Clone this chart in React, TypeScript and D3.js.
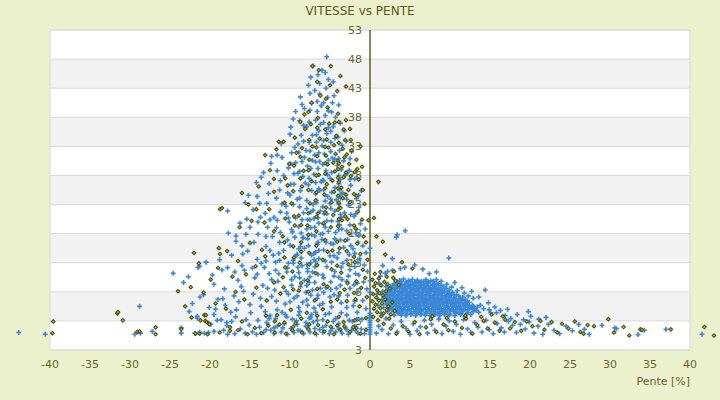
import React from 'react';
import * as d3 from 'd3';

const chartTitle = 'VITESSE vs PENTE';
const xAxisTitle = 'Pente [%]';
const xTicks = [-40, -35, -30, -25, -20, -15, -10, -5, 0, 5, 10, 15, 20, 25, 30, 35, 40];
const yTicks = [-2.5, 2.5, 7.5, 12.5, 17.5, 22.5, 27.5, 32.5, 37.5, 42.5, 47.5, 52.5];
const yTickLabels = ['3', '3', '8', '13', '18', '23', '28', '33', '38', '43', '48', '53'];

type P = [number, number];

// Series 1 (blue): downhill slopes
const blueLeft: P[] = [
  [-43.9,0.5],[-40.6,0.2],[-28.8,5.0],[-29.4,0.2],[-28.7,0.4],[-27.2,0.7],[-23.6,1.3],[-23.6,0.4],[-22.6,4.1],[-21.6,3.3],[-21.6,3.0],[-21.9,0.4],[-21.3,0.6],[-20.7,0.4],[-20.2,0.5],[-19.5,0.7],[-18.3,0.9],[-17.8,0.2],[-19.5,3.6],[-18.1,5.2],[-19.9,1.9],[-19.1,2.6],[-18.6,2.7],[-17.9,2.2],[-17.9,1.7],[-17.3,2.4],[-16.7,4.4],
  [-24.6,10.7],[-23.3,9.1],[-22.7,10.1],[-21.5,11.7],[-21.3,11.9],[-20.5,12.6],[-20.8,7.0],[-21.25,6.6],[-19.7,10.4],[-19.5,8.8],[-18.5,11.25],[-17.8,11.65],[-17.7,17.6],[-17.8,21.4],[-16.25,19.3],[-15.4,20.0],[-16.75,17.1],[-16.75,16.2],[-15.6,22.8],
  [-22.2,5.5],[-20.1,4.8],[-19.0,6.2],[-18.2,8.0],[-17.0,6.8],[-16.5,9.5],[-16.0,12.0],[-15.8,7.6],[-15.3,14.5],[-17.3,13.8],[-18.8,13.0],
  [-16.9,0.3],[-16.2,1.1],[-15.6,0.4],[-15.1,1.8],[-14.7,0.6],[-14.2,0.2],[-13.8,1.4],[-13.3,0.5],[-12.9,2.2],[-12.4,0.9],[-12.0,0.3],[-11.6,1.6],[-11.1,0.6],[-10.7,2.0],[-10.3,0.2],[-9.9,1.2],[-9.5,0.5],[-9.1,1.9],[-8.7,0.8],[-8.3,0.3],[-7.9,1.5],[-7.5,0.6],[-7.1,2.3],[-6.7,0.2],[-6.3,1.0],[-5.9,0.5],[-5.5,1.7],[-5.1,0.3],[-4.7,1.2],[-4.3,0.6],[-3.9,2.0],[-3.5,0.4],[-3.1,1.3],[-2.7,0.2],[-2.3,0.9],[-1.9,1.6],[-1.5,0.4],[-1.1,1.1],[-0.7,0.3],
  [-16.8,3.2],[-16.4,5.8],[-16.1,8.4],[-15.7,11.2],[-15.9,14.0],[-15.5,17.4],[-15.2,24.1],[-14.9,3.9],[-14.6,7.1],[-14.4,9.9],[-14.1,13.1],[-14.5,16.0],[-14.0,19.5],[-13.8,22.7],[-14.2,26.3],[-13.6,5.0],[-13.4,8.6],[-13.2,11.7],[-13.0,15.3],[-12.8,18.6],[-13.1,21.0],[-12.7,24.4],[-13.3,28.0],[-12.5,3.4],[-12.3,6.7],[-12.1,13.8],[-12.2,17.0],[-12.0,20.3],[-12.4,29.6],[-12.3,30.8],[-11.6,31.0],[-11.0,30.6],
  [-11.8,2.9],[-11.7,5.9],[-11.5,9.3],[-11.4,14.1],[-11.2,17.7],[-11.6,19.8],[-11.0,22.6],[-11.3,25.0],[-10.8,27.5],[-11.1,33.0],[-10.6,3.6],[-10.5,7.6],[-10.4,10.9],[-10.2,12.4],[-10.1,19.5],[-10.4,21.0],[-9.9,26.0],[-10.2,28.8],[-9.8,31.4],[-10.0,34.6],[-9.6,37.2],[-9.3,38.5],[-9.7,2.8],[-9.5,6.4],[-9.2,13.8],[-9.4,16.9],[-9.1,23.4],[-9.3,29.7],[-9.0,32.9],[-8.7,41.0],
  [-8.9,4.8],[-8.8,9.9],[-8.6,17.6],[-8.5,19.9],[-8.7,24.9],[-8.4,27.3],[-8.6,34.4],[-8.3,36.1],[-8.2,39.0],[-8.0,2.2],[-7.9,6.1],[-7.8,11.5],[-7.9,21.8],[-7.7,25.9],[-7.8,29.1],[-7.6,33.2],[-7.9,35.9],[-7.5,38.7],[-7.7,43.0],[-7.4,44.4],[-7.1,46.3],[-7.3,3.6],[-7.2,7.8],[-7.0,13.0],[-6.9,17.1],[-7.1,22.5],[-6.8,24.3],[-7.0,27.7],[-6.9,31.0],[-6.7,34.5],[-6.8,37.0],[-6.6,40.2],[-6.9,42.1],[-6.5,44.8],[-6.3,5.2],[-6.4,19.3],[-6.2,21.4],[-6.1,26.4],[-6.3,29.9],[-6.0,32.6],[-6.2,36.3],[-6.1,39.5],[-6.3,43.3],[-6.0,45.6],
  [-5.9,2.7],[-5.8,7.4],[-5.7,20.9],[-5.6,23.1],[-5.8,25.0],[-5.5,28.3],[-5.7,31.2],[-5.4,34.7],[-5.6,37.8],[-5.3,40.9],[-5.5,42.5],[-5.4,47.9],[-5.2,44.0],[-5.1,3.8],[-5.0,6.6],[-4.9,9.2],[-5.2,17.9],[-4.9,21.8],[-4.8,24.6],[-5.0,27.0],[-4.7,30.5],[-4.9,33.2],[-4.6,35.9],[-4.8,38.4],[-4.5,41.2],[-4.6,43.6],[-4.3,2.9],[-4.2,8.1],[-4.4,11.0],[-4.1,13.3],[-4.3,17.7],[-4.0,19.6],[-4.2,23.3],[-3.9,26.1],[-4.1,29.2],[-3.8,31.8],[-4.0,34.1],[-3.7,36.5],[-3.9,39.6],[-3.6,5.6],[-3.5,9.6],[-3.4,12.4],[-3.3,15.1],[-3.5,18.3],[-3.2,21.1],[-3.4,24.5],[-3.1,27.6],[-3.3,30.0],[-3.0,33.4],[-3.2,35.2],
  [-2.9,3.5],[-2.8,6.9],[-2.7,10.2],[-2.6,13.9],[-2.8,16.5],[-2.5,19.0],[-2.7,22.4],[-2.4,25.8],[-2.6,28.4],[-2.3,31.6],[-2.2,2.4],[-2.1,5.1],[-2.0,8.7],[-1.9,11.8],[-2.1,14.9],[-1.8,17.6],[-2.0,20.5],[-1.7,23.5],[-1.9,26.9],[-1.6,4.0],[-1.5,7.5],[-1.4,10.4],[-1.3,13.2],[-1.5,16.0],[-1.2,19.2],[-1.4,22.0],[-1.1,24.9],[-1.0,2.8],[-0.9,6.0],[-0.8,9.2],[-0.7,12.1],[-0.9,15.4],[-0.6,18.3],[-0.5,4.6],[-0.4,8.0],[-0.3,11.0],[-0.5,14.2],
];

// Series 1 (blue): curved streaks of consecutive readings
const blueStreaks: P[] = [
  [-11.0,4.0],[-10.6,5.4],[-10.2,7.1],[-9.8,8.6],[-9.4,10.1],[-9.0,11.7],[-8.6,13.3],[-8.2,15.0],[-7.8,16.6],[-7.4,18.5],[-7.0,20.1],
  [-9.2,2.5],[-8.8,4.1],[-8.4,5.7],[-8.0,7.4],[-7.6,9.1],[-7.2,10.9],[-6.8,12.7],[-6.4,14.6],[-6.0,16.5],[-5.6,18.6],
  [-12.8,8.1],[-12.3,9.6],[-11.8,11.2],[-11.3,12.9],[-10.8,14.6],[-10.3,16.4],[-9.8,18.2],[-9.3,20.2],[-8.8,22.1],
  [-7.4,3.1],[-7.0,4.7],[-6.6,6.4],[-6.2,8.1],[-5.8,9.9],[-5.4,11.8],[-5.0,13.7],[-4.6,15.7],
  [-10.5,22.2],[-10.0,24.1],[-9.5,26.0],[-9.0,27.9],[-8.5,29.9],[-8.0,31.8],
  [-9.6,12.4],[-9.1,13.9],[-8.7,15.3],[-8.3,16.8],[-7.9,18.3],[-7.5,19.9],[-7.1,21.5],[-6.7,23.2],[-6.3,24.9],[-5.9,26.7],
  [-8.2,9.5],[-7.8,11.0],[-7.4,12.5],[-7.0,14.1],[-6.6,15.7],[-6.2,17.4],[-5.8,19.1],[-5.4,20.9],[-5.0,22.7],
  [-3.8,19.0],[-3.7,20.8],[-3.8,22.0],[-3.7,23.6],[-3.8,25.0],[-3.7,26.8],
];

const blueLeftDense: P[] = [
  [-10.9,1.3],[-10.4,3.2],[-10.0,5.8],[-9.8,9.6],[-10.3,11.6],[-9.6,12.9],[-10.0,15.5],[-9.7,17.8],[-10.2,20.2],[-9.6,22.5],[-10.3,24.5],[-9.5,27.8],[-9.9,29.5],[-9.4,32.3],[-9.9,35.8],
  [-9.0,0.9],[-8.9,3.5],[-9.1,6.8],[-8.7,8.4],[-8.9,10.8],[-8.5,12.0],[-8.9,14.9],[-8.4,16.8],[-8.9,18.7],[-8.3,21.1],[-8.8,23.6],[-8.1,26.2],[-8.8,28.2],[-8.2,30.6],[-8.9,31.5],[-8.3,33.4],[-8.8,36.9],[-8.5,39.7],
  [-8.0,1.6],[-7.6,3.0],[-7.8,5.2],[-7.4,6.9],[-7.9,8.6],[-7.5,10.1],[-7.9,12.2],[-7.3,13.8],[-7.7,15.4],[-7.3,17.3],[-7.8,19.9],[-7.4,21.2],[-7.9,23.2],[-7.3,24.9],[-7.6,27.0],[-7.4,28.7],[-7.2,30.1],[-7.5,31.7],[-7.2,34.4],[-7.6,36.7],[-7.3,39.9],[-7.5,41.6],
  [-6.9,1.2],[-6.6,2.6],[-6.8,4.0],[-6.5,6.9],[-6.9,9.1],[-6.5,10.5],[-6.9,11.8],[-6.4,13.2],[-6.8,14.3],[-6.5,16.0],[-6.9,18.6],[-6.5,20.2],[-6.7,22.8],[-6.4,25.2],[-6.8,26.3],[-6.5,28.7],[-6.8,29.8],[-6.4,31.4],[-6.7,33.2],[-6.4,35.2],[-6.6,38.5],[-6.3,41.5],
  [-5.9,1.4],[-5.6,3.6],[-5.9,5.5],[-5.5,8.2],[-5.9,10.4],[-5.6,12.8],[-5.8,14.7],[-5.5,16.0],[-5.9,17.5],[-5.4,19.7],[-5.9,22.1],[-5.3,23.9],[-5.8,26.6],[-5.3,27.6],[-5.9,29.4],[-5.2,30.1],[-5.8,33.5],[-5.2,35.7],[-5.8,36.6],[-5.2,38.6],[-5.8,40.0],[-5.6,45.2],
  [-4.9,0.8],[-4.6,2.4],[-4.8,4.9],[-4.5,7.0],[-4.9,7.9],[-4.5,10.2],[-4.8,12.6],[-4.5,13.7],[-4.9,15.8],[-4.4,16.6],[-4.8,19.7],[-4.4,21.4],[-4.9,23.4],[-4.4,25.4],[-4.8,28.0],[-4.4,30.3],[-4.9,31.6],[-4.4,33.9],[-4.9,35.1],[-4.3,37.5],[-4.7,40.0],
  [-3.9,1.1],[-3.6,3.9],[-3.9,6.8],[-3.7,8.6],[-3.9,10.0],[-3.6,11.7],[-3.9,14.2],[-3.7,16.4],[-3.9,18.2],[-3.6,20.3],[-3.9,22.6],[-3.6,24.3],[-3.9,27.5],[-3.6,28.5],[-3.9,30.4],[-3.5,32.7],
  [-2.9,1.0],[-2.6,2.6],[-2.9,4.8],[-2.5,8.1],[-2.9,9.3],[-2.5,11.3],[-2.9,12.9],[-2.4,15.4],[-2.9,18.0],[-2.4,20.8],[-2.9,23.4],[-2.5,26.8],[-2.9,27.8],[-2.5,30.4],
  [-1.8,0.8],[-1.6,2.8],[-1.9,5.9],[-1.6,9.0],[-1.8,10.6],[-1.5,12.5],[-1.9,14.1],[-1.4,17.2],[-1.8,20.9],[-1.4,24.1],[-1.6,27.1],
  [-12.0,1.3],[-11.6,4.4],[-11.9,7.8],[-11.4,10.6],[-11.8,12.6],[-11.3,16.0],[-11.7,18.5],[-11.2,21.2],[-11.7,23.6],[-11.2,26.6],[-11.6,28.3],
  [-13.0,1.0],[-12.6,2.9],[-13.1,4.1],[-12.6,10.6],[-13.0,12.8],[-12.5,14.6],[-13.0,17.0],[-12.5,19.9],[-12.9,22.7],[-12.6,26.1],
  [-14.0,2.6],[-13.7,6.4],[-14.1,10.5],[-13.6,12.4],[-14.0,17.4],[-13.7,20.3],[-14.1,23.9],[-13.6,27.2],[-15.0,5.3],[-14.7,11.6],[-15.0,18.6],[-14.6,21.6],[-15.5,2.7],[-16.0,15.4],[-16.9,10.9],[-17.4,4.0],[-18.4,6.3],[-19.3,4.5],
];

// Series 1 (blue): flat and uphill slopes
const blueRight: P[] = [
  [0,0.2],[0,0.6],[0,1.0],[0,1.4],[0,1.8],[0,2.2],[0,2.6],[0,3.0],[0,3.4],[0,3.8],[0,7.4],[0,9.4],[0,15.0],
  [3.3,16.9],[4.4,18.0],[3.4,17.3],[9.85,13.3],[4.35,11.7],[2.2,11.0],[1.6,12.0],[2.8,13.2],[5.6,12.1],[6.6,11.4],[7.4,10.6],[8.3,10.9],[1.3,10.2],[10.6,9.1],[11.5,8.2],[12.7,7.6],[14.4,7.8],[13.6,6.6],[14.8,5.6],[15.6,4.9],[16.3,4.3],[15.1,3.9],[16.9,3.4],[17.6,2.9],[1.2,8.8],[0.9,7.1],[1.0,5.2],[1.4,3.8],[2.0,2.9],[1.1,1.6],[0.8,0.4],
  [3.8,11.5],[2.8,11.2],[1.9,10.7],[1.1,9.0],[5.7,9.0],[6.3,9.1],[7.2,9.0],[8.1,8.8],[9.8,7.2],
  [1.5,1.0],[2.3,0.3],[2.9,1.8],[3.4,0.6],[3.9,2.4],[4.5,1.2],[5.0,0.2],[5.4,2.0],[5.9,0.8],[6.3,1.5],[6.8,2.6],[7.2,0.4],[7.7,1.9],[8.1,0.9],[8.6,2.8],[9.0,0.3],[9.5,1.6],[9.9,2.5],[10.4,0.7],[10.8,1.9],[11.3,0.2],[11.7,2.7],[12.2,1.1],[12.6,0.5],[13.1,2.2],[13.5,1.4],[14.0,0.6],[14.5,2.6],[14.9,1.0],[15.4,0.3],[15.9,2.0],[16.4,1.3],[16.8,0.6],[17.3,2.4],[17.8,1.7],[18.3,0.5],[18.8,1.9],[19.4,1.1],[19.9,2.3],[20.5,0.4],[21.0,1.6],[21.6,0.2],[22.3,1.9],[23.0,0.9],[23.7,0.3],[24.5,1.6],[25.3,0.8],[26.1,1.9],[26.8,1.05],[27.4,0.2],
  [18.4,3.6],[19.2,2.7],[20.1,3.3],[21.1,2.8],[19.8,4.1],[22.0,3.1],[17.2,4.5],
  [29.0,1.74],[30.8,1.16],[30.6,1.3],[33.5,0.15],[34.3,0.9],[37.0,1.05],[41.5,0.2],
];

// Series 1 (blue): dense cluster on gentle uphill slopes
const blueCluster: P[] = [
  [3.7,9.5],[4.2,9.7],[4.8,9.4],[5.3,9.6],[5.9,9.5],[6.4,9.3],[7.0,9.6],[7.6,9.4],
  [3.0,8.9],[3.5,9.0],[4.0,8.8],[4.6,9.0],[5.1,8.8],[5.6,9.0],[6.2,8.9],[6.7,8.8],[7.3,9.0],[7.9,8.8],[8.5,8.9],
  [2.5,8.3],[3.0,8.2],[3.5,8.4],[4.0,8.2],[4.5,8.4],[5.0,8.2],[5.5,8.4],[6.0,8.3],[6.5,8.2],[7.0,8.4],[7.5,8.2],[8.0,8.3],[8.6,8.2],[9.2,8.4],
  [2.2,7.7],[2.7,7.6],[3.2,7.8],[3.7,7.6],[4.2,7.8],[4.7,7.6],[5.2,7.8],[5.7,7.7],[6.2,7.6],[6.7,7.8],[7.2,7.6],[7.7,7.8],[8.2,7.6],[8.7,7.7],[9.3,7.6],[9.9,7.8],
  [2.0,7.1],[2.5,7.0],[3.0,7.2],[3.5,7.0],[4.0,7.2],[4.5,7.0],[5.0,7.2],[5.5,7.1],[6.0,7.0],[6.5,7.2],[7.0,7.0],[7.5,7.2],[8.0,7.0],[8.5,7.1],[9.0,7.2],[9.6,7.0],[10.2,7.1],[10.8,7.0],
  [1.9,6.5],[2.4,6.4],[2.9,6.6],[3.4,6.4],[3.9,6.6],[4.4,6.4],[4.9,6.6],[5.4,6.5],[5.9,6.4],[6.4,6.6],[6.9,6.4],[7.4,6.6],[7.9,6.5],[8.4,6.4],[8.9,6.6],[9.4,6.4],[9.9,6.6],[10.5,6.5],[11.1,6.4],[11.6,6.6],
  [1.9,5.9],[2.4,5.8],[2.9,6.0],[3.4,5.8],[3.9,6.0],[4.4,5.8],[4.9,6.0],[5.4,5.9],[5.9,5.8],[6.4,6.0],[6.9,5.8],[7.4,6.0],[7.9,5.9],[8.4,5.8],[8.9,6.0],[9.4,5.8],[9.9,6.0],[10.4,5.9],[10.9,5.8],[11.5,6.0],[12.1,5.9],
  [2.1,5.3],[2.6,5.2],[3.1,5.4],[3.6,5.2],[4.1,5.4],[4.6,5.2],[5.1,5.4],[5.6,5.3],[6.1,5.2],[6.6,5.4],[7.1,5.2],[7.6,5.4],[8.1,5.3],[8.6,5.2],[9.1,5.4],[9.6,5.2],[10.1,5.4],[10.6,5.3],[11.1,5.2],[11.6,5.4],[12.2,5.3],[12.8,5.2],
  [2.4,4.7],[2.9,4.6],[3.4,4.8],[3.9,4.6],[4.4,4.8],[4.9,4.6],[5.4,4.8],[5.9,4.7],[6.4,4.6],[6.9,4.8],[7.4,4.6],[7.9,4.8],[8.4,4.7],[8.9,4.6],[9.4,4.8],[9.9,4.6],[10.4,4.8],[10.9,4.7],[11.4,4.6],[11.9,4.8],[12.5,4.7],[13.1,4.6],
  [3.0,4.1],[3.5,4.0],[4.0,4.2],[4.5,4.0],[5.0,4.2],[5.5,4.1],[6.0,4.0],[6.5,4.2],[7.0,4.0],[7.5,4.2],[8.0,4.1],[8.5,4.0],[9.0,4.2],[9.5,4.0],[10.0,4.2],[10.5,4.1],[11.0,4.0],[11.6,4.2],[12.2,4.0],[12.9,4.1],
  [3.9,3.5],[4.5,3.4],[5.1,3.6],[5.7,3.4],[6.3,3.6],[6.9,3.5],[7.5,3.4],[8.1,3.6],[8.7,3.4],[9.3,3.6],[9.9,3.5],[10.6,3.4],[11.3,3.6],
];

const blueClusterFill: P[] = [
  [3.4,9.2],[3.9,9.3],[4.5,9.2],[5.0,9.3],[5.6,9.2],[6.1,9.2],[6.7,9.3],[7.3,9.2],[7.9,9.3],
  [2.8,8.6],[3.3,8.6],[3.8,8.7],[4.3,8.6],[4.8,8.6],[5.3,8.7],[5.8,8.6],[6.3,8.6],[6.8,8.7],[7.3,8.6],[7.8,8.6],[8.3,8.7],[8.9,8.6],
  [2.4,8.0],[2.9,8.0],[3.4,8.1],[3.9,8.0],[4.4,8.0],[4.9,8.1],[5.4,8.0],[5.9,8.0],[6.4,8.1],[6.9,8.0],[7.4,8.0],[7.9,8.1],[8.4,8.0],[8.9,8.0],[9.5,8.1],
  [2.1,7.4],[2.6,7.4],[3.1,7.5],[3.6,7.4],[4.1,7.4],[4.6,7.5],[5.1,7.4],[5.6,7.4],[6.1,7.5],[6.6,7.4],[7.1,7.4],[7.6,7.5],[8.1,7.4],[8.6,7.4],[9.1,7.5],[9.7,7.4],[10.3,7.4],
  [1.9,6.8],[2.4,6.8],[2.9,6.9],[3.4,6.8],[3.9,6.8],[4.4,6.9],[4.9,6.8],[5.4,6.8],[5.9,6.9],[6.4,6.8],[6.9,6.8],[7.4,6.9],[7.9,6.8],[8.4,6.8],[8.9,6.9],[9.4,6.8],[9.9,6.8],[10.5,6.9],[11.1,6.8],
  [2.1,6.2],[2.6,6.2],[3.1,6.3],[3.6,6.2],[4.1,6.2],[4.6,6.3],[5.1,6.2],[5.6,6.2],[6.1,6.3],[6.6,6.2],[7.1,6.2],[7.6,6.3],[8.1,6.2],[8.6,6.2],[9.1,6.3],[9.6,6.2],[10.1,6.2],[10.7,6.3],[11.3,6.2],[11.9,6.2],
  [2.2,5.6],[2.7,5.6],[3.2,5.7],[3.7,5.6],[4.2,5.6],[4.7,5.7],[5.2,5.6],[5.7,5.6],[6.2,5.7],[6.7,5.6],[7.2,5.6],[7.7,5.7],[8.2,5.6],[8.7,5.6],[9.2,5.7],[9.7,5.6],[10.2,5.6],[10.7,5.7],[11.2,5.6],[11.8,5.6],[12.4,5.7],
  [2.3,5.0],[2.8,5.0],[3.3,5.1],[3.8,5.0],[4.3,5.0],[4.8,5.1],[5.3,5.0],[5.8,5.0],[6.3,5.1],[6.8,5.0],[7.3,5.0],[7.8,5.1],[8.3,5.0],[8.8,5.0],[9.3,5.1],[9.8,5.0],[10.3,5.0],[10.8,5.1],[11.3,5.0],[11.8,5.0],[12.3,5.1],[12.9,5.0],[13.4,4.9],
  [2.7,4.4],[3.2,4.4],[3.7,4.5],[4.2,4.4],[4.7,4.4],[5.2,4.5],[5.7,4.4],[6.2,4.4],[6.7,4.5],[7.2,4.4],[7.7,4.4],[8.2,4.5],[8.7,4.4],[9.2,4.4],[9.7,4.5],[10.2,4.4],[10.7,4.4],[11.2,4.5],[11.7,4.4],[12.2,4.4],[12.8,4.5],[13.3,4.3],
  [3.5,3.8],[4.0,3.8],[4.6,3.7],[5.2,3.8],[5.8,3.8],[6.4,3.7],[7.0,3.8],[7.6,3.8],[8.2,3.7],[8.8,3.8],[9.4,3.8],[10.0,3.7],[10.7,3.8],[11.4,3.8],[12.1,3.7],
  [13.8,5.2],[14.2,4.6],[13.6,4.0],[12.9,6.4],[12.3,6.8],[11.8,7.3],[10.9,7.7],[10.2,8.3],[9.6,8.8],[8.9,9.3],[8.3,9.6],[2.0,8.4],[1.6,7.6],[1.5,6.2],[1.7,4.8],[2.2,4.1],[3.0,3.5],[12.6,3.6],[11.9,3.2],[14.9,4.4],[15.8,3.9],
];

// Series 2 (olive)
const oliveLeft: P[] = [
  [-39.7,0.4],[-39.6,2.4],[-31.6,3.8],[-31.5,4.0],[-30.9,2.6],[-29.1,0.6],[-28.8,0.7],[-26.8,1.4],[-26.8,0.2],[-23.6,1.1],[-22.3,3.1],[-20.7,3.5],[-20.5,3.5],[-21.2,2.6],[-21.8,0.3],[-21.3,0.3],[-20.3,0.2],[-18.8,0.5],[-17.5,0.8],[-19.3,5.5],[-20.6,2.5],[-20.4,2.3],[-20.2,2.1],[-20.1,1.95],[-17.5,1.4],
  [-22.0,14.2],[-21.4,12.4],[-20.8,7.4],[-18.9,15.0],[-18.75,14.0],[-17.85,14.5],[-18.75,21.7],[-18.5,21.9],[-16.0,24.5],[-15.2,22.5],[-15.0,15.9],[-24.0,7.6],[-23.1,5.0],[-22.4,8.3],[-19.9,9.6],[-18.0,4.6],[-17.2,10.1],[-16.5,12.8],[-16.3,18.6],[-15.7,6.2],[-15.5,10.5],[-14.8,19.7],[-14.3,11.9],[-13.9,25.6],[-13.5,14.7],[-13.1,31.0],[-12.9,6.0],[-12.6,21.7],[-12.0,26.9],[-11.7,32.0],[-11.4,33.3],[-10.8,33.3],
  [-16.5,0.9],[-15.3,0.2],[-14.4,1.3],[-13.6,0.4],[-12.7,1.7],[-11.9,0.5],[-11.3,1.9],[-10.5,0.3],[-9.7,0.9],[-9.3,2.1],[-8.5,0.5],[-7.7,1.1],[-6.9,0.4],[-6.5,1.8],[-5.7,0.7],[-4.9,1.5],[-4.5,0.2],[-3.7,1.0],[-3.3,2.3],[-2.5,0.6],[-1.7,1.3],[-1.2,0.3],[-0.5,1.0],
  [-11.6,3.5],[-11.2,7.2],[-10.9,10.0],[-10.7,13.4],[-10.9,17.0],[-10.6,20.1],[-10.3,25.8],[-10.1,29.5],[-9.9,4.4],[-9.7,11.0],[-9.6,15.3],[-9.4,18.9],[-9.8,22.7],[-9.2,31.4],[-9.4,34.0],[-8.9,7.7],[-8.8,12.5],[-8.6,16.0],[-8.9,20.6],[-8.5,25.6],[-8.3,28.3],[-8.5,32.2],[-8.1,35.5],[-8.2,38.0],[-7.9,3.9],[-7.8,9.5],[-7.6,14.2],[-7.8,18.9],[-7.5,22.7],[-7.3,26.5],[-7.6,30.2],[-7.2,32.5],[-7.4,36.3],[-7.3,40.0],[-7.2,46.3],[-6.9,6.0],[-6.8,10.7],[-6.7,15.4],[-6.5,21.0],[-6.8,23.2],[-6.4,27.6],[-6.6,30.8],[-6.3,33.8],[-6.5,37.4],[-6.2,41.2],[-6.4,45.6],
  [-5.9,4.5],[-5.8,8.8],[-5.9,13.0],[-5.6,16.4],[-5.8,19.3],[-5.5,22.0],[-5.7,24.2],[-5.4,26.0],[-5.6,27.8],[-5.3,29.4],[-5.5,30.9],[-5.2,32.3],[-5.4,33.7],[-5.1,36.4],[-5.3,39.2],[-5.0,43.0],[-4.9,46.3],[-4.9,5.8],[-4.8,11.4],[-4.7,14.6],[-4.9,18.6],[-4.6,20.7],[-4.8,22.9],[-4.5,24.7],[-4.7,26.6],[-4.4,28.2],[-4.6,29.7],[-4.3,31.2],[-4.5,32.7],[-4.2,34.3],[-4.4,36.6],[-4.0,38.1],[-4.1,42.0],[-3.7,44.6],[-3.9,3.2],[-3.8,7.3],[-3.6,10.8],[-3.8,15.0],[-3.5,19.8],[-3.7,21.9],[-3.4,23.6],[-3.6,25.4],[-3.3,27.2],[-3.5,29.0],[-3.2,30.6],[-3.4,32.1],[-3.1,33.6],[-3.3,35.4],[-3.0,37.0],[-3.0,42.8],[-2.9,5.9],[-2.8,9.0],[-2.7,12.2],[-2.9,14.5],[-2.6,17.5],[-2.8,20.0],[-2.5,22.9],[-2.7,25.0],[-2.4,27.4],[-2.6,29.5],[-2.3,31.8],[-2.4,33.6],[-2.5,35.5],
  [-1.9,2.6],[-1.8,6.2],[-1.7,9.3],[-1.9,12.6],[-1.6,15.8],[-1.8,18.4],[-1.5,21.3],[-1.7,24.0],[-1.4,26.8],[-1.6,28.6],[-1.7,30.2],[-1.2,32.5],[-1.0,29.0],[-1.3,5.0],[-1.1,8.2],[-0.9,11.3],[-1.2,14.0],[-0.8,17.0],[-1.0,19.9],[-0.7,22.6],[-0.9,25.0],[-0.5,3.0],[-0.4,6.6],[-0.6,9.9],[-0.3,13.0],[-0.5,16.0],[-0.2,19.8],
];

const oliveLeftDense: P[] = [
  [-10.7,2.2],[-10.8,8.3],[-10.6,11.7],[-10.7,16.0],[-10.7,22.8],[-10.6,27.0],
  [-9.6,1.5],[-9.6,7.9],[-9.5,13.4],[-9.5,20.5],[-9.6,24.8],[-9.5,29.2],
  [-8.6,2.9],[-8.6,9.0],[-8.6,14.4],[-8.6,19.0],[-8.7,27.0],[-8.7,30.7],[-8.7,36.7],
  [-7.6,1.9],[-7.7,7.5],[-7.6,12.2],[-7.7,17.3],[-7.7,21.0],[-7.7,25.0],[-7.7,28.4],[-7.6,33.6],[-7.7,38.4],
  [-6.6,3.4],[-6.6,8.0],[-6.6,12.1],[-6.7,17.9],[-6.7,20.4],[-6.7,24.6],[-6.7,27.5],[-6.7,32.3],[-6.6,35.7],[-6.6,43.6],
  [-5.3,2.4],[-5.3,8.4],[-5.3,14.4],[-5.6,21.2],[-5.6,25.3],[-5.6,29.6],[-5.6,32.4],[-5.6,35.4],[-5.5,40.7],
  [-4.1,1.7],[-4.1,6.2],[-4.1,12.0],[-4.1,16.1],[-4.0,24.0],[-4.0,27.1],[-4.0,30.0],[-3.9,33.1],[-3.9,36.7],
  [-3.2,1.6],[-3.2,7.9],[-3.1,16.3],[-3.1,20.5],[-3.0,24.2],[-3.0,28.0],[-2.9,31.1],
  [-2.1,1.4],[-2.0,7.3],[-2.0,13.5],[-2.0,18.9],[-2.0,24.3],[-1.9,28.1],
  [-11.9,2.4],[-12.0,9.1],[-12.0,17.9],[-12.0,24.7],[-13.0,3.4],[-13.1,13.6],[-13.2,19.4],[-12.5,28.4],[-14.2,8.2],[-14.2,21.7],[-16.0,2.4],[-16.8,7.5],[-19.0,11.6],
  [-4.0,18.8],[-3.9,20.0],[-4.0,21.6],[-3.9,22.8],[-4.0,25.3],[-3.9,26.4],[-4.0,28.6],[-3.9,29.6],
];

const oliveRight: P[] = [
  [1.06,26.4],[0.8,17.0],[1.6,16.1],[4.0,12.6],[0.5,20.2],[1.9,13.9],[3.0,11.0],[5.3,11.5],[2.1,10.1],
  [0.3,9.6],[0.7,9.0],[1.1,9.8],[0.5,8.4],[0.9,7.8],[1.4,8.6],[1.8,9.2],[2.2,8.8],[0.4,7.1],[0.8,6.5],[1.2,7.3],[1.6,6.9],[2.0,7.6],[2.5,8.1],[0.3,5.9],[0.7,5.3],[1.1,6.0],[1.5,5.5],[1.9,6.2],[2.3,5.0],[2.8,5.7],[0.5,4.6],[0.9,4.0],[1.3,4.7],[1.7,3.8],[2.1,4.4],[2.6,3.6],[3.1,4.2],[0.4,3.2],[1.0,2.6],[1.4,3.3],[2.4,2.9],[3.2,9.4],[3.6,8.7],[2.9,9.9],[0.6,10.6],[1.3,10.9],
  [1.7,2.0],[2.6,1.2],[3.3,0.3],[4.1,1.6],[4.8,0.7],[5.6,2.3],[6.2,0.2],[7.0,1.4],[7.6,2.8],[8.3,0.6],[9.2,1.9],[9.8,0.9],[10.6,2.4],[11.5,1.3],[12.0,2.9],[12.8,0.3],[13.4,1.8],[14.2,2.5],[14.7,1.2],[15.6,2.2],[16.2,0.8],[16.9,2.7],[17.5,1.2],[18.1,2.3],[18.9,0.8],[19.6,2.4],[20.3,1.6],[21.3,2.5],[21.8,1.0],[22.7,2.3],[23.4,0.5],[24.0,2.0],[24.8,1.2],[25.6,2.4],[26.3,0.6],[26.7,0.3],[27.2,1.8],[11.9,3.4],[13.9,3.2],[15.2,3.6],[16.6,3.3],[9.6,3.0],[7.8,3.3],
  [28.0,1.6],[29.8,2.8],[31.7,1.45],[30.5,0.5],[32.4,0.0],[33.8,1.05],[34.0,0.95],[37.6,1.05],[41.8,1.45],[43.0,0.0],
];

const blueSeries: P[] = [...blueLeft, ...blueStreaks, ...blueLeftDense, ...blueRight, ...blueCluster, ...blueClusterFill];
const oliveSeries: P[] = [...oliveLeft, ...oliveLeftDense, ...oliveRight];

const W = 720;
const H = 400;
const FONT = '"DejaVu Sans", Verdana, sans-serif';
const OLIVE_TEXT = '#66662a';

export default function App() {
  const x = d3.scaleLinear().domain([-40, 40]).range([50, 690]);
  const y = d3.scaleLinear().domain([-2.5, 52.5]).range([350, 30]);
  const [x0, x1] = x.range();
  const [yb, yt] = y.range();
  const cross = 'M-2.5,0H2.5M0,-2.5V2.5';
  const diamond = 'M0,-1.8L1.8,0L0,1.8L-1.8,0Z';

  const bands = yTicks.slice(0, -1).map((t, i) => ({ lo: t, hi: yTicks[i + 1], i }));

  return (
    <svg width={W} height={H} style={{ position: 'absolute', left: 0, top: 0 }} fontFamily={FONT}>
      <rect x={0} y={0} width={W} height={H} fill="#ebf0cd" />
      <rect x={x0} y={yt} width={x1 - x0} height={yb - yt} fill="#ffffff" />
      {bands.map((b) =>
        (bands.length - 1 - b.i) % 2 === 1 ? (
          <rect key={'b' + b.i} x={x0} y={y(b.hi)} width={x1 - x0} height={y(b.lo) - y(b.hi)} fill="#f2f2f2" />
        ) : null
      )}
      {yTicks.map((t) => (
        <line key={'g' + t} x1={x0} x2={x1} y1={y(t)} y2={y(t)} stroke="#d9d9d9" strokeWidth={1} />
      ))}
      <rect x={x0} y={yt} width={x1 - x0} height={yb - yt} fill="none" stroke="#d9d9d9" strokeWidth={1} />
      <line x1={x(0)} x2={x(0)} y1={yt} y2={yb} stroke="#5f6020" strokeWidth={1.5} />
      {yTicks.map((t, i) => (
        <text key={'yl' + t} x={x(0) - 8} y={y(t)} dy="0.35em" textAnchor="end" fontSize={11} fill={OLIVE_TEXT}>
          {yTickLabels[i]}
        </text>
      ))}
      {xTicks.map((t) => (
        <text key={'xl' + t} x={x(t)} y={368} textAnchor="middle" fontSize={11} fill={OLIVE_TEXT}>
          {t}
        </text>
      ))}
      <text x={x1} y={385} textAnchor="end" fontSize={11} fill={OLIVE_TEXT}>
        {xAxisTitle}
      </text>
      <text x={W / 2} y={15} textAnchor="middle" fontSize={12} fill="#5a5a1e">
        {chartTitle}
      </text>
      <g>
        {blueSeries.map((d, i) => (
          <path key={'p' + i} d={cross} transform={`translate(${x(d[0])},${y(d[1])})`} stroke="#3a87d8" strokeWidth={1.6} fill="none" />
        ))}
      </g>
      <g>
        {oliveSeries.map((d, i) => (
          <path key={'o' + i} d={diamond} transform={`translate(${x(d[0])},${y(d[1])})`} fill="#c4c27a" stroke="#4e5200" strokeWidth={1.1} />
        ))}
      </g>
    </svg>
  );
}
